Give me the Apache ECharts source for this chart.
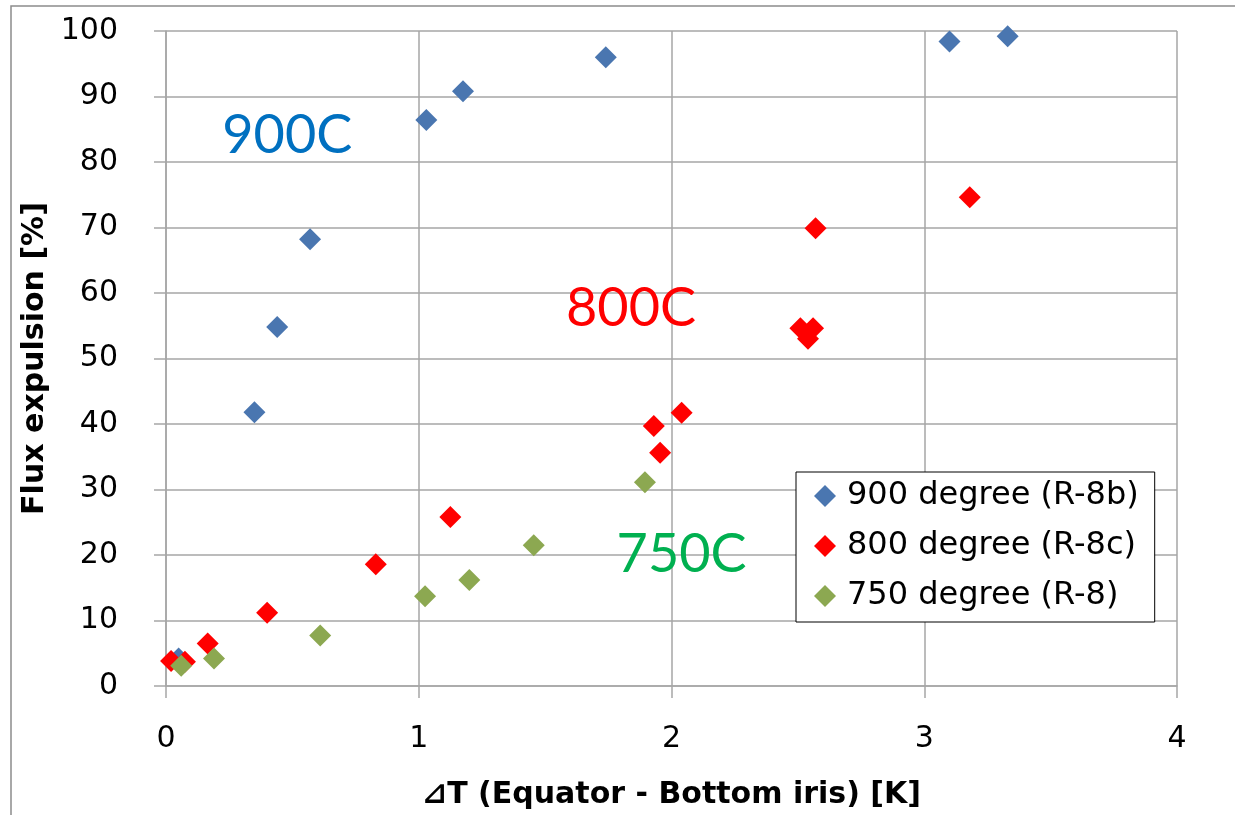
<!DOCTYPE html>
<html>
<head>
<meta charset="utf-8">
<script src="https://cdn.jsdelivr.net/npm/echarts@6/dist/echarts.min.js"></script>
<style>
html,body{margin:0;padding:0;background:#fff;}
#chart{width:1235px;height:815px;}
</style>
</head>
<body>
<div id="chart"></div>
<script>
// ---- Data (x: ΔT [K], y: flux expulsion [%]) ----
const series900Name = '900 degree (R-8b)';
const series800Name = '800 degree (R-8c)';
const series750Name = '750 degree (R-8)';

const x900 = [0.05, 0.35, 0.44, 0.57, 1.03, 1.175, 1.74, 3.10, 3.33];
const y900 = [4.2, 41.8, 54.8, 68.2, 86.4, 90.8, 96.0, 98.4, 99.2];

const x800 = [0.02, 0.075, 0.165, 0.40, 0.83, 1.125, 1.93, 1.955, 2.04, 2.51, 2.54, 2.56, 2.57, 3.18];
const y800 = [3.8, 3.7, 6.5, 11.2, 18.6, 25.8, 39.7, 35.6, 41.7, 54.6, 53.0, 54.6, 69.9, 74.6];

const x750 = [0.06, 0.19, 0.61, 1.025, 1.20, 1.455, 1.895];
const y750 = [3.1, 4.2, 7.7, 13.7, 16.2, 21.5, 31.1];

const xTicks = [0, 1, 2, 3, 4];
const yTicks = [0, 10, 20, 30, 40, 50, 60, 70, 80, 90, 100];

const xAxisTitle = '⊿T (Equator - Bottom iris) [K]';
const yAxisTitle = 'Flux expulsion [%]';

const annotations = [
  { text: '900C', color: '#0070C0', x: 0.48, y: 84 },
  { text: '800C', color: '#FF0000', x: 1.84, y: 57.6 },
  { text: '750C', color: '#00B050', x: 2.04, y: 20.0 }
];

const zip = (xs, ys) => xs.map((v, i) => [v, ys[i]]);

const FONT = '"DejaVu Sans", "Open Sans", sans-serif';
const ANNO_FONT = 'Lato, "Open Sans", sans-serif';
const GRID_COLOR = '#a6a6a6';

const chart = echarts.init(document.getElementById('chart'));

const option = {
  animation: false,
  backgroundColor: '#fff',
  textStyle: { fontFamily: FONT },
  grid: { left: 166, top: 31, right: 58, bottom: 129, containLabel: false },
  xAxis: {
    type: 'value', min: xTicks[0], max: xTicks[xTicks.length - 1], interval: 1,
    name: xAxisTitle, nameLocation: 'middle', nameGap: 94,
    nameTextStyle: { fontFamily: FONT, fontSize: 30, fontWeight: 'bold', color: '#000' },
    axisLine: { show: true, lineStyle: { color: GRID_COLOR, width: 1.5 } },
    axisTick: { show: true, length: 12, lineStyle: { color: GRID_COLOR, width: 1.5 } },
    axisLabel: { fontFamily: FONT, fontSize: 30, color: '#000', margin: 38 },
    splitLine: { show: true, lineStyle: { color: GRID_COLOR, width: 1.5 } }
  },
  yAxis: {
    type: 'value', min: yTicks[0], max: yTicks[yTicks.length - 1], interval: 10,
    name: yAxisTitle, nameLocation: 'middle', nameGap: 96,
    nameTextStyle: { fontFamily: FONT, fontSize: 30, fontWeight: 'bold', color: '#000' },
    axisLine: { show: true, lineStyle: { color: GRID_COLOR, width: 1.5 } },
    axisTick: { show: true, length: 12, lineStyle: { color: GRID_COLOR, width: 1.5 } },
    axisLabel: { fontFamily: FONT, fontSize: 30, color: '#000', margin: 48 },
    splitLine: { show: true, lineStyle: { color: GRID_COLOR, width: 1.5 } }
  },
  legend: {
    orient: 'vertical', left: 796, top: 472,
    padding: [8, 16, 10, 18],
    backgroundColor: '#fff',
    borderColor: '#000', borderWidth: 1,
    itemWidth: 22, itemHeight: 22, itemGap: 18,
    icon: 'diamond',
    textStyle: { fontFamily: FONT, fontSize: 32, color: '#000', padding: [0, 0, 0, 6] },
    data: [series900Name, series800Name, series750Name]
  },
  series: [
    { name: series900Name, type: 'scatter', symbol: 'diamond', symbolSize: 22,
      itemStyle: { color: '#4A76B0', opacity: 1 }, data: zip(x900, y900) },
    { name: series800Name, type: 'scatter', symbol: 'diamond', symbolSize: 22,
      itemStyle: { color: '#FF0000', opacity: 1 }, data: zip(x800, y800) },
    { name: series750Name, type: 'scatter', symbol: 'diamond', symbolSize: 22,
      itemStyle: { color: '#8CA851', opacity: 1 }, data: zip(x750, y750) }
  ]
};
chart.setOption(option);

// annotations placed in data coordinates
const graphics = [{
  type: 'rect', silent: true, z: -10,
  shape: { x: 11, y: 6, width: 1400, height: 1000 },
  style: { fill: null, stroke: '#8c8c8c', lineWidth: 1.5 }
}];
annotations.forEach(a => {
  const p = chart.convertToPixel({ gridIndex: 0 }, [a.x, a.y]);
  graphics.push({
    type: 'text', x: p[0], y: p[1], z: 50,
    style: { text: a.text, fill: a.color, font: '54px ' + ANNO_FONT, textAlign: 'center', textVerticalAlign: 'middle' }
  });
});
chart.setOption({ graphic: graphics });
</script>
</body>
</html>
